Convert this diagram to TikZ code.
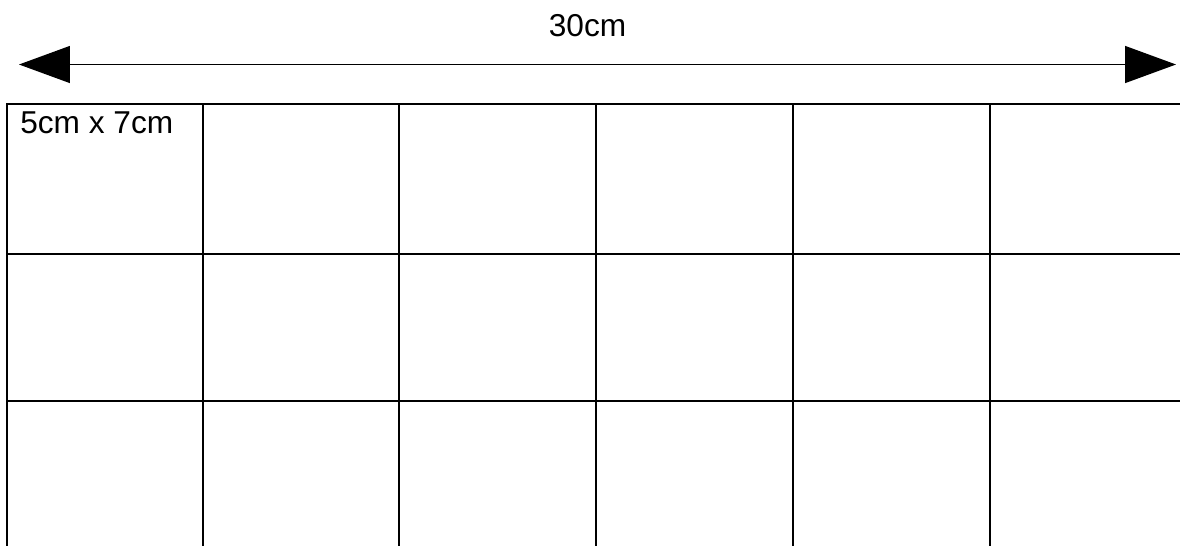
\documentclass[tikz,border=0pt]{standalone}
\usepackage{fontspec}
\setmainfont{Liberation Sans}
\usetikzlibrary{arrows.meta}
\tikzset{
  gridline/.style={draw=black,line width=1.4pt},
  dimline/.style={draw=black,line width=0.8pt,{Triangle[length=1.02cm,width=0.74cm]}-{Triangle[length=1.02cm,width=0.74cm]}},
  lab/.style={font=\fontsize{18}{21}\selectfont,inner sep=0pt}
}
\begin{document}
\begin{tikzpicture}[x=0.02cm,y=-0.02cm]
    \useasboundingbox (0,0) rectangle (1180,545);
    \coordinate (dimL) at (19,64.5);
    \coordinate (dimR) at (1176,64.5);
    \draw[dimline] (dimL)--(dimR);
    \node[lab,anchor=base] (total) at (587.5,36) {30cm};
    \foreach \x in {7,203,399,596,793,990}{
      \draw[gridline] (\x,104)--(\x,546);}
    \foreach \y in {104,254,401}{\draw[gridline] (6.2,\y)--(1181,\y);}
    \node[lab,anchor=base west] (size) at (20,133) {5cm x 7cm};
  \end{tikzpicture}
\end{document}
